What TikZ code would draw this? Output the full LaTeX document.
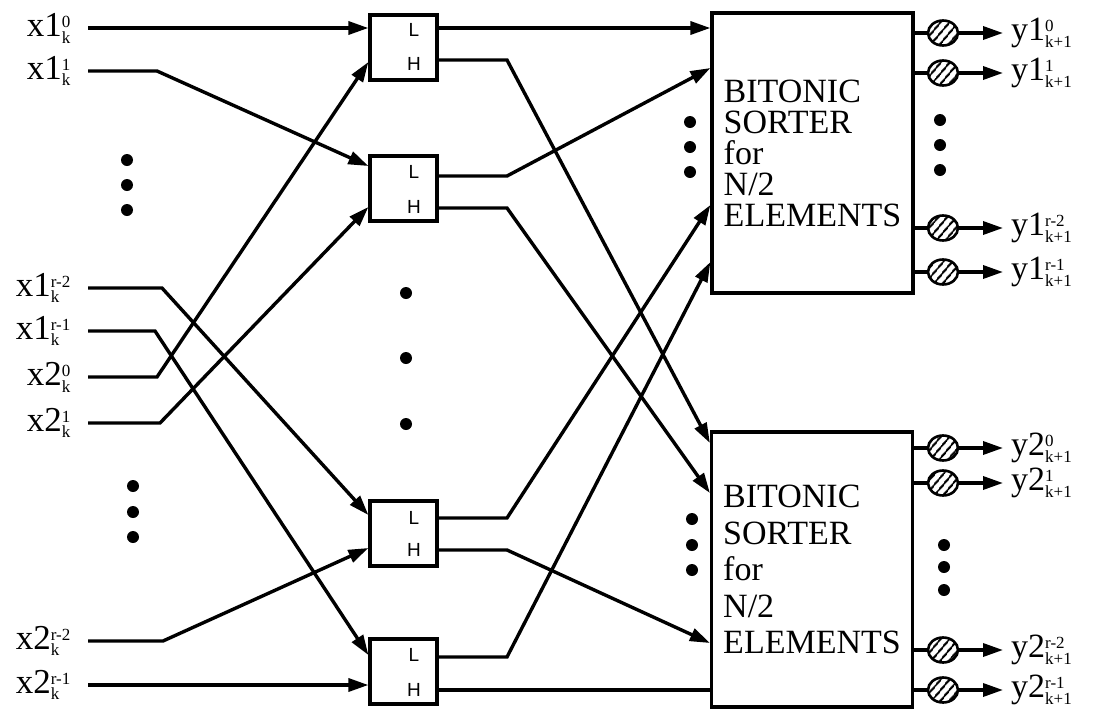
\documentclass[tikz,border=0pt]{standalone}
\usepackage{fontspec}
\setmainfont{Liberation Serif}
\newfontfamily\lhfont{Liberation Sans}
\usepackage{amsmath}
\usetikzlibrary{arrows.meta,patterns.meta,shapes.geometric}
\newcommand\lbl[3]{#1$^{\text{\fontsize{17}{17}\selectfont #2}}_{\text{\fontsize{17}{17}\selectfont #3}}$}
\begin{document}
\begin{tikzpicture}[x=1pt,y=-1pt,
  wire/.style={line width=3.4pt},
  arr/.style={wire,-{Triangle[length=20pt,width=13pt]}},
  cebox/.style={draw,line width=3.2pt,minimum width=67pt,minimum height=65pt,inner sep=0pt},
  sorter/.style={draw,line width=3.2pt,minimum width=201pt,align=left,inner sep=0pt},
  inlbl/.style={anchor=east,inner ysep=1pt,inner xsep=17pt,font=\fontsize{35}{37}\selectfont},
  outlbl/.style={anchor=west,inner ysep=1pt,inner xsep=8pt,font=\fontsize{34}{36}\selectfont},
  lh/.style={font=\lhfont\fontsize{19}{19}\selectfont,inner sep=0pt},
  hatch/.style={ellipse,draw,line width=2.6pt,minimum width=30pt,minimum height=25pt,inner sep=0pt,
    pattern={Lines[angle=50,distance=6.5pt,line width=2pt]}},
  dot/.style={circle,fill,inner sep=0pt,minimum size=12pt}]
\useasboundingbox (0,0) rectangle (1096,710);

% input labels
\node[inlbl] (i1) at (88,28) {\lbl{x1}{0}{k}};
\node[inlbl] (i2) at (88,71) {\lbl{x1}{1}{k}};
\node[inlbl] (i3) at (88,288) {\lbl{x1}{r-2}{k}};
\node[inlbl] (i4) at (88,331) {\lbl{x1}{r-1}{k}};
\node[inlbl] (i5) at (88,377) {\lbl{x2}{0}{k}};
\node[inlbl] (i6) at (88,423) {\lbl{x2}{1}{k}};
\node[inlbl] (i7) at (88,641) {\lbl{x2}{r-2}{k}};
\node[inlbl] (i8) at (88,685) {\lbl{x2}{r-1}{k}};

% compare-exchange boxes
\node[cebox] (c1) at (403.5,47.5) {};
\node[cebox] (c2) at (403.5,188.5) {};
\node[cebox] (c3) at (403.5,533.5) {};
\node[cebox] (c4) at (403.5,671.5) {};
\node[lh] (c1L) at (414,30) {L};  \node[lh] (c1H) at (414,64) {H};
\node[lh] (c2L) at (414,172) {L}; \node[lh] (c2H) at (414,207) {H};
\node[lh] (c3L) at (414,518) {L}; \node[lh] (c3H) at (414,550) {H};
\node[lh] (c4L) at (414,655) {L}; \node[lh] (c4H) at (414,690) {H};

% bitonic sorters
\node[sorter,minimum height=280pt,font=\fontsize{34}{31}\selectfont] (s1) at (812.5,153)
  {BITONIC\\SORTER\\for\\N/2\\ELEMENTS};
\node[sorter,minimum height=275pt,font=\fontsize{34}{36.5}\selectfont] (s2) at (812,569.5)
  {BITONIC\\SORTER\\for\\N/2\\ELEMENTS};

% dots
\foreach \y [count=\n] in {160,185,210} \node[dot] (da\n) at (127,\y) {};
\foreach \y [count=\n] in {486,512,537} \node[dot] (db\n) at (133,\y) {};
\foreach \y [count=\n] in {293,358,424} \node[dot] (dc\n) at (406,\y) {};
\foreach \y [count=\n] in {122,147,172} \node[dot] (dd\n) at (690,\y) {};
\foreach \y [count=\n] in {519,545,570} \node[dot] (de\n) at (692,\y) {};
\foreach \y [count=\n] in {120,145,170} \node[dot] (df\n) at (940,\y) {};
\foreach \y [count=\n] in {545,567,590} \node[dot] (dg\n) at (944,\y) {};

% inputs to compare-exchange boxes
\draw[arr] (i1.east) -- (c1.west |- 0,28);
\draw[arr] (i2.east) -- (157,71) -- (c2.west |- 0,166);
\draw[arr] (i3.east) -- (162,288) -- (c3.west |- 0,515);
\draw[arr] (i4.east) -- (155,331) -- (c4.west |- 0,655);
\draw[arr] (i5.east) -- (157,377) -- (c1.west |- 0,62);
\draw[arr] (i6.east) -- (160,423) -- (c2.west |- 0,207);
\draw[arr] (i7.east) -- (163,641) -- (c3.west |- 0,548);
\draw[arr] (i8.east) -- (c4.west |- 0,685);

% compare-exchange outputs to sorters
\draw[arr] (c1.east |- 0,28) -- (s1.west |- 0,28);
\draw[arr] (c1.east |- 0,60) -- (507,60) -- (s2.west |- 0,443);
\draw[arr] (c2.east |- 0,176) -- (507,176) -- (s1.west |- 0,68);
\draw[arr] (c2.east |- 0,208) -- (507,208) -- (s2.west |- 0,493);
\draw[arr] (c3.east |- 0,518) -- (507,518) -- (s1.west |- 0,205);
\draw[arr] (c3.east |- 0,550) -- (507,550) -- (s2.west |- 0,643);
\draw[arr] (c4.east |- 0,657) -- (507,657) -- (s1.west |- 0,262);
\draw[wire] (c4.east |- 0,690) -- (s2.west |- 0,690);

% sorter outputs
\foreach \y/\nm/\s/\sup in {33/a/1/0, 73/b/1/1, 228/c/1/r-2, 272/d/1/r-1,
                            448/e/2/0, 483/f/2/1, 650/g/2/r-2, 690/h/2/r-1}{
  \node[hatch] (h\nm) at (943,\y) {};
  \node[outlbl] (o\nm) at (1003,\y) {\lbl{y\s}{\sup}{k+1}};
  \draw[wire] (s\s.east |- h\nm) -- (h\nm.west);
  \draw[arr] (h\nm.east) -- (o\nm.west);
}
\end{tikzpicture}
\end{document}
